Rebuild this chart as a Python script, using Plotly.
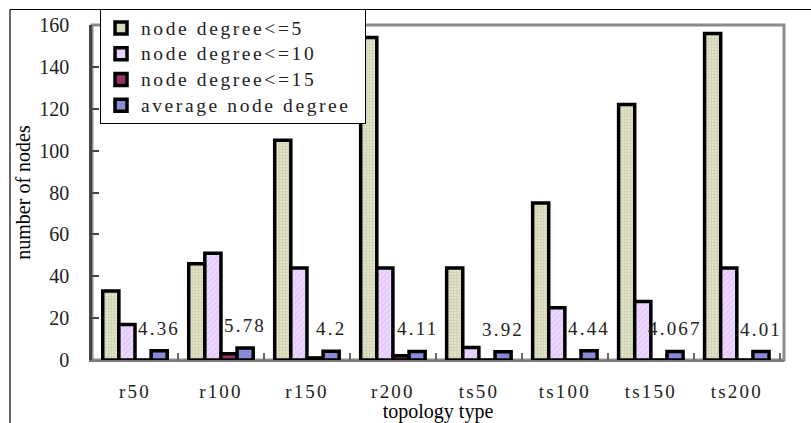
import plotly.graph_objects as go

categories = ["r50", "r100", "r150", "r200", "ts50", "ts100", "ts150", "ts200"]
deg5 = [33, 46, 105, 154, 44, 75, 122, 156]
deg10 = [17, 51, 44, 44, 6, 25, 28, 44]
deg15 = [0, 3, 1, 2, 0, 0, 0, 0]
avg_deg = [4.36, 5.78, 4.2, 4.11, 3.92, 4.44, 4.067, 4.01]
avg_labels = ["4.36", "5.78", "4.2", "4.11", "3.92", "4.44", "4.067", "4.01"]
series_names = ["node degree&lt;=5", "node degree&lt;=10", "node degree&lt;=15", "average node degree"]
y_ticks = [0, 20, 40, 60, 80, 100, 120, 140, 160]

SERIF = "'Liberation Serif', 'Times New Roman', Times, serif"
BARGAP = 0.25
# plot area in pixels (for converting decoration positions to paper coords)
L, R, T, B = 92, 784, 25, 360
W, H = R - L, B - T


def px_x(p):
    return (p - L) / W


def px_y(p):
    return (B - p) / H


def sp(s, ls, fs=None):
    extra = f";font-size:{fs}px" if fs else ""
    return f'<span style="letter-spacing:{ls}px{extra}">{s}</span>'


styles = [
    dict(color="#dcdcbc", pattern=dict(shape="+", fgcolor="#b4b494", bgcolor="#e2e2c6",
                                       size=3, solidity=0.35, fillmode="overlay")),
    dict(color="#ecd8ff", pattern=dict(shape="/", fgcolor="#d2b0f2", bgcolor="#ecd8ff",
                                       size=4, solidity=0.3, fillmode="overlay")),
    dict(color="#993366"),
    dict(color="#8f8fda", pattern=dict(shape="x", fgcolor="#6464b4", bgcolor="#9090dc",
                                       size=3, solidity=0.35, fillmode="overlay")),
]

fig = go.Figure()
for name, vals, st in zip(series_names, [deg5, deg10, deg15, avg_deg], styles):
    marker = dict(line=dict(color="black", width=3.5), **st)
    fig.add_trace(go.Bar(x=categories, y=vals, name=sp(name, 2.6, 19.5) + "&nbsp;&nbsp;", marker=marker))

# data labels above the average-degree bars
n_series = 4
blue_off = (1 - BARGAP) * ((3 + 0.5) / n_series - 0.5)
for i, (v, lab) in enumerate(zip(avg_deg, avg_labels)):
    fig.add_annotation(x=i + blue_off, y=v, xref="x", yref="y", text=sp(lab, 2.2),
                       showarrow=False, yanchor="bottom", yshift=10,
                       font=dict(family=SERIF, size=19, color="#222222"))

shapes = [
    # plot-area grey frame
    dict(type="rect", xref="paper", yref="paper", x0=0, y0=0, x1=1, y1=1,
         line=dict(color="#8a8a8a", width=3), layer="below"),
    # outer chart frame (top and left edges)
    dict(type="line", xref="paper", yref="paper", x0=px_x(10), y0=px_y(9.5), x1=px_x(830), y1=px_y(9.5),
         line=dict(color="black", width=1.2)),
    dict(type="line", xref="paper", yref="paper", x0=px_x(10), y0=px_y(9.5), x1=px_x(10), y1=px_y(440),
         line=dict(color="black", width=1.2)),
]

fig.update_layout(
    width=811, height=423,
    margin=dict(l=L, r=811 - R, t=T, b=423 - B, pad=0, autoexpand=False),
    paper_bgcolor="white", plot_bgcolor="white",
    barmode="group", bargap=BARGAP, bargroupgap=0,
    font=dict(family=SERIF, size=19, color="black"),
    shapes=shapes,
    legend=dict(x=px_x(100), y=px_y(9), xanchor="left", yanchor="top",
                bgcolor="white", bordercolor="black", borderwidth=1,
                font=dict(family=SERIF, size=17.5, color="#222222"),
                tracegroupgap=0),
    showlegend=True,
)

fig.update_xaxes(
    type="category", tickmode="array", tickvals=categories,
    ticktext=[sp(c, 2.2) for c in categories], automargin=False,
    tickson="boundaries", ticks="inside", ticklen=7, tickcolor="#666666", tickwidth=1.5,
    showline=True, linecolor="#7a7a7a", linewidth=2, showgrid=False,
    tickfont=dict(family=SERIF, size=19, color="#222222"), ticklabelstandoff=13,
    title=dict(text="topology type", font=dict(family=SERIF, size=20, color="black"), standoff=4),
)
fig.update_yaxes(
    range=[0, 160], tickmode="array", tickvals=y_ticks, automargin=False,
    ticks="inside", ticklen=7, tickcolor="#444444", tickwidth=1.5,
    showline=True, linecolor="#444444", linewidth=2.5, showgrid=False, zeroline=False,
    tickfont=dict(family=SERIF, size=20, color="#222222"), ticklabelstandoff=16,
    title=dict(text="number of nodes", font=dict(family=SERIF, size=20, color="black"), standoff=4),
)

fig.write_html("out.html")
